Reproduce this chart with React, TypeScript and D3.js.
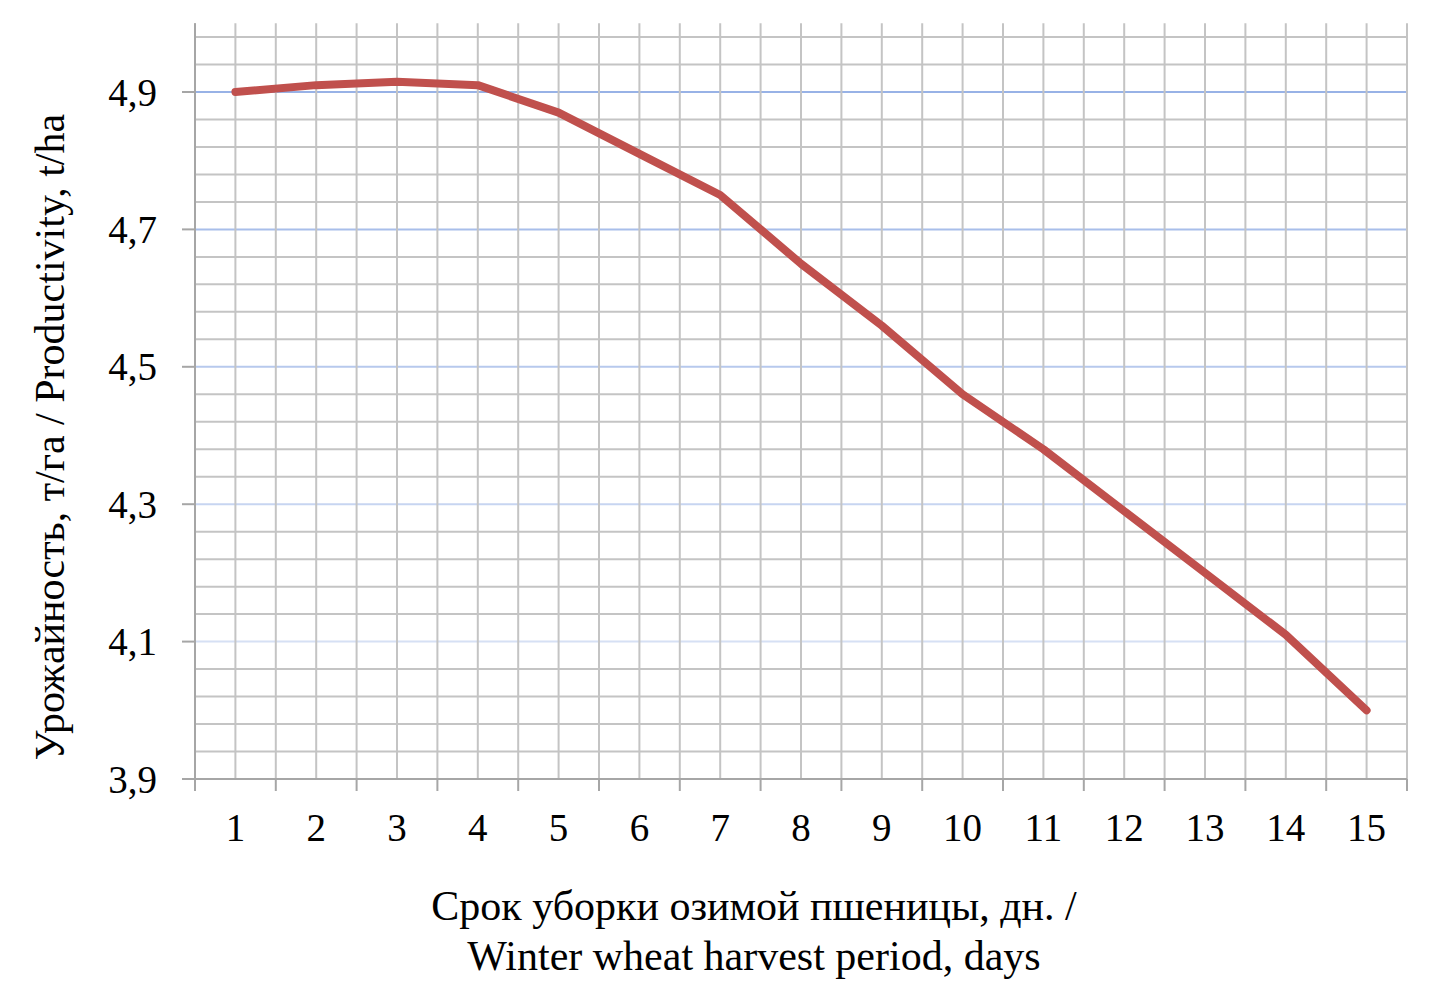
import React from "react";
import * as d3 from "d3";

const days = [1, 2, 3, 4, 5, 6, 7, 8, 9, 10, 11, 12, 13, 14, 15];
const yieldValues = [4.9, 4.91, 4.915, 4.91, 4.87, 4.81, 4.75, 4.65, 4.56, 4.46, 4.38, 4.29, 4.2, 4.11, 4.0];
const majorTicks = [3.9, 4.1, 4.3, 4.5, 4.7, 4.9];
const majorTickLabels = ["3,9", "4,1", "4,3", "4,5", "4,7", "4,9"];
const xTitleLines = ["Срок уборки озимой пшеницы, дн. /", "Winter wheat harvest period, days"];
const yTitle = "Урожайность, т/га / Productivity, t/ha";

const W = 1446;
const H = 990;
const left = 195;
const right = 1407;
const top = 23.3;
const bottom = 779;
const FONT = "'Liberation Serif', 'Times New Roman', serif";

export default function App() {
  const y = d3.scaleLinear().domain([3.9, 5.0]).range([bottom, top]);
  const band = d3.scaleBand<number>().domain(days).range([left, right]).padding(0);
  const cx = (d: number) => (band(d) as number) + band.bandwidth() / 2;

  const minorTicks = d3.range(0, 28).map((i) => 3.9 + i * 0.04).filter((v) => v < 5.0 - 1e-9 && v > 3.9 + 1e-9);
  const halfSteps = d3.range(0, days.length * 2 + 1).map((i) => left + (i * band.bandwidth()) / 2);

  const line = d3
    .line<number>()
    .x((_, i) => cx(days[i]))
    .y((v) => y(v));

  const blueShade = d3.scaleLinear<string>().domain([3.9, 4.9]).range(["#e6ecf8", "#98b2e6"]);

  return (
    <svg width={W} height={H} style={{ display: "block", position: "absolute", left: 0, top: 0 }}>
      <rect width={W} height={H} fill="#fff" />
      {minorTicks.map((v, i) => {
        const isMajor = majorTicks.some((m) => Math.abs(m - v) < 1e-6);
        return (
          <line
            key={"h" + i}
            x1={left}
            x2={right}
            y1={y(v)}
            y2={y(v)}
            stroke={isMajor ? blueShade(v) : "#c4c4c4"}
            strokeWidth={2}
          />
        );
      })}
      {halfSteps.map((x, i) => (
        <line key={"v" + i} x1={x} x2={x} y1={top} y2={bottom} stroke="#c4c4c4" strokeWidth={2} />
      ))}
      <line x1={left} x2={left} y1={top} y2={bottom} stroke="#a6a6a6" strokeWidth={2} />
      <line x1={left} x2={right} y1={bottom} y2={bottom} stroke="#a6a6a6" strokeWidth={2} />
      {majorTicks.map((v, i) => (
        <g key={"yt" + i}>
          <line x1={left - 13} x2={left} y1={y(v)} y2={y(v)} stroke="#a6a6a6" strokeWidth={2} />
          <text
            x={157}
            y={y(v)}
            dy="0.35em"
            textAnchor="end"
            fontFamily={FONT}
            fontSize={39}
            fill="#000"
          >
            {majorTickLabels[i]}
          </text>
        </g>
      ))}
      {d3.range(0, days.length + 1).map((i) => {
        const x = left + i * band.bandwidth();
        return <line key={"xt" + i} x1={x} x2={x} y1={bottom} y2={bottom + 12} stroke="#a6a6a6" strokeWidth={2} />;
      })}
      {days.map((d) => (
        <text key={"xl" + d} x={cx(d)} y={841} textAnchor="middle" fontFamily={FONT} fontSize={39} fill="#000">
          {d}
        </text>
      ))}
      <path
        d={line(yieldValues) as string}
        fill="none"
        stroke="#c0504d"
        strokeWidth={8}
        strokeLinecap="round"
        strokeLinejoin="round"
      />
      {xTitleLines.map((t, i) => (
        <text key={"xt" + i} x={754} y={920 + i * 50} textAnchor="middle" fontFamily={FONT} fontSize={42} fill="#000">
          {t}
        </text>
      ))}
      <text
        transform={`translate(64, ${437}) rotate(-90)`}
        textAnchor="middle"
        fontFamily={FONT}
        fontSize={42}
        fill="#000"
      >
        {yTitle}
      </text>
    </svg>
  );
}
